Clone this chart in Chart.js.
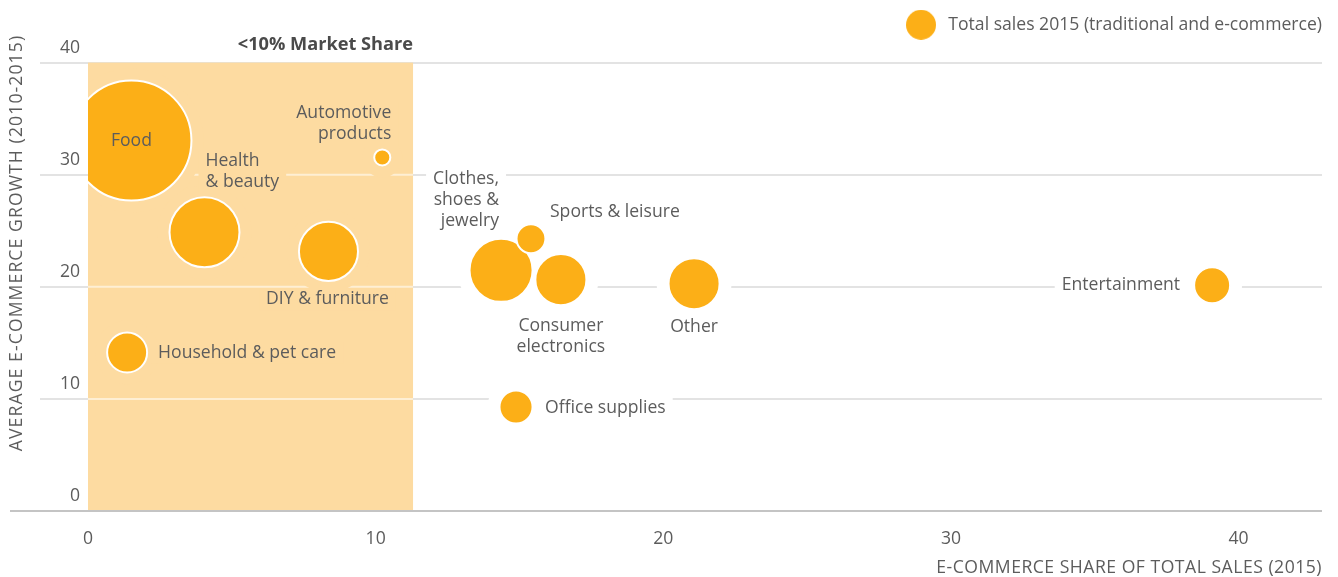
<!DOCTYPE html>
<html>
<head>
<meta charset="utf-8">
<script src="https://cdn.jsdelivr.net/npm/chart.js@4.4.1/dist/chart.umd.min.js"></script>
<style>
  html, body { margin: 0; padding: 0; background: #fff; }
  #wrap { width: 1338px; height: 577px; }
</style>
</head>
<body>
<div id="wrap"><canvas id="bubbleChart"></canvas></div>
<script>
// categories and values
const categories = ['Food', 'Health\n& beauty', 'Automotive\nproducts', 'DIY & furniture', 'Household & pet care',
  'Clothes,\nshoes &\njewelry', 'Sports & leisure', 'Consumer\nelectronics', 'Other', 'Entertainment', 'Office supplies'];
const eShare = [1.51, 4.05, 10.23, 8.36, 1.36, 14.36, 15.40, 16.44, 21.07, 39.08, 14.88];
const growth = [33.05, 24.86, 31.54, 23.16, 14.14, 21.47, 24.28, 20.64, 20.28, 20.13, 9.28];
const totalSales = [100, 34, 1.8, 24.2, 11.1, 27.6, 5.8, 18.1, 18.1, 9, 7.6];
const xTicks = [0, 10, 20, 30, 40];
const yTicks = [0, 10, 20, 30, 40];
const shareLimit = 11.3;   // right edge of the shaded block
const shadeLabel = '<10% Market Share';
const legendLabel = 'Total sales 2015 (traditional and e-commerce)';
const xTitle = 'E-COMMERCE SHARE OF TOTAL SALES (2015)';
const yTitle = 'AVERAGE E-COMMERCE GROWTH (2010-2015)';

const ORANGE = '#fcaf17';
const SHADE = '#fddba1';
const TEXT = '#5c5c5c';
const FONT = '"Open Sans", sans-serif';
const FS = 17.6;

// label offset from bubble centre: dx, dy, align
const labelPlace = [
  [0, 0, 'center'], [1, -71, 'left'], [9, -44, 'right'], [-1, 48, 'center'], [31, 0, 'left'],
  [-2, -91, 'right'], [19, -27, 'left'], [0, 46, 'center'], [0, 43, 'center'], [-32, 0, 'right'], [29, 1, 'left']
];
const LINE_H = 21;

const dot = document.createElement('canvas');
dot.width = 30; dot.height = 30;
const dctx = dot.getContext('2d');
dctx.fillStyle = ORANGE;
dctx.beginPath(); dctx.arc(15, 15, 15, 0, Math.PI * 2); dctx.fill();

function labelBox(ctx, i, pt) {
  const lines = categories[i].split('\n');
  const [dx, dy, align] = labelPlace[i];
  const ax = pt.x + dx, ay = pt.y + dy;
  const w = Math.max(...lines.map(l => ctx.measureText(l).width));
  const left = align === 'left' ? ax : align === 'right' ? ax - w : ax - w / 2;
  return {lines, ax, ay, align, left, w, top: ay - 11, bottom: ay + (lines.length - 1) * LINE_H + 11};
}

const decor = {
  id: 'decor',
  beforeDatasetsDraw(chart) {
    const {ctx, chartArea: a, scales: {x, y}} = chart;
    const x0 = x.getPixelForValue(0), x1 = x.getPixelForValue(shareLimit);
    const yTop = y.getPixelForValue(40), yBot = y.getPixelForValue(0);
    ctx.save();
    ctx.fillStyle = SHADE;
    ctx.fillRect(x0, yTop, x1 - x0, yBot - yTop);
    ctx.strokeStyle = 'rgba(255,255,255,0.55)';
    ctx.lineWidth = 2;
    [10, 20, 30].forEach(v => {
      const py = y.getPixelForValue(v);
      ctx.beginPath(); ctx.moveTo(x0, py); ctx.lineTo(x1, py); ctx.stroke();
    });
    // clear the grid around bubbles and labels
    ctx.font = FS + 'px ' + FONT;
    const meta = chart.getDatasetMeta(0);
    meta.data.forEach((pt, i) => {
      const inside = eShare[i] < shareLimit;
      ctx.save();
      if (inside) { ctx.beginPath(); ctx.rect(x0, yTop + 1, x1 - x0, yBot - yTop - 1); ctx.clip(); }
      ctx.fillStyle = inside ? SHADE : '#fff';
      ctx.beginPath(); ctx.arc(pt.x, pt.y, pt.options.radius + 12, 0, Math.PI * 2); ctx.fill();
      const b = labelBox(ctx, i, pt);
      ctx.fillStyle = (b.left + b.w / 2) < x1 ? SHADE : '#fff';
      ctx.fillRect(b.left - 7, b.top, b.w + 14, b.bottom - b.top);
      ctx.restore();
    });
    ctx.strokeStyle = '#c4c4c4';
    ctx.lineWidth = 2;
    ctx.beginPath(); ctx.moveTo(10, yBot); ctx.lineTo(a.right, yBot); ctx.stroke();
    ctx.restore();
  },
  afterDatasetsDraw(chart) {
    const {ctx, chartArea: a, scales: {x}} = chart;
    ctx.save();
    ctx.font = FS + 'px ' + FONT;
    ctx.fillStyle = TEXT;
    ctx.textBaseline = 'middle';
    chart.getDatasetMeta(0).data.forEach((pt, i) => {
      const b = labelBox(ctx, i, pt);
      ctx.textAlign = b.align;
      b.lines.forEach((l, k) => ctx.fillText(l, b.ax, b.ay + k * LINE_H));
    });
    ctx.font = 'bold 18.2px ' + FONT;
    ctx.fillStyle = '#4a4a4a';
    ctx.textAlign = 'right';
    ctx.fillText(shadeLabel, x.getPixelForValue(shareLimit), 45);
    // axis titles
    ctx.font = FS + 'px ' + FONT;
    ctx.fillStyle = TEXT;
    ctx.letterSpacing = '0.5px';
    ctx.fillText(xTitle, a.right, 568);
    ctx.letterSpacing = '1.1px';
    ctx.textAlign = 'center';
    ctx.translate(17, 243);
    ctx.rotate(-Math.PI / 2);
    ctx.fillText(yTitle, 0, 0);
    ctx.restore();
  }
};

new Chart(document.getElementById('bubbleChart'), {
  type: 'bubble',
  data: {
    datasets: [{
      label: legendLabel,
      data: categories.map((c, i) => ({x: eShare[i], y: growth[i], r: 6 * Math.sqrt(totalSales[i])})),
      backgroundColor: ORANGE,
      borderColor: '#fff',
      borderWidth: 2,
      hoverBorderWidth: 2,
      hoverRadius: 0,
      clip: {left: 0, top: false, right: false, bottom: false}
    }]
  },
  options: {
    responsive: true,
    maintainAspectRatio: false,
    animation: false,
    events: [],
    layout: {autoPadding: false, padding: {left: 0, right: 0, top: 0, bottom: 0}},
    scales: {
      x: {
        type: 'linear', min: 0, max: 42.9,
        afterBuildTicks: s => { s.ticks = xTicks.map(v => ({value: v})); },
        afterFit: s => { s.height = 66; },
        grid: {display: false, drawTicks: false},
        border: {display: false},
        ticks: {padding: 17, color: TEXT, font: {family: FONT, size: FS}}
      },
      y: {
        type: 'linear', min: 0, max: 40,
        afterBuildTicks: s => { s.ticks = yTicks.map(v => ({value: v})); },
        afterFit: s => { s.width = 88; },
        grid: {color: '#e3e3e3', lineWidth: 2, tickLength: 48, drawTicks: true},
        border: {display: false},
        ticks: {padding: -40, labelOffset: -15, color: TEXT, font: {family: FONT, size: FS}}
      },
      // empty spacer axes that hold the plot clear of the legend and the right edge
      xTop: {
        type: 'linear', position: 'top', display: true,
        afterFit: s => { s.height = 19; },
        grid: {display: false}, border: {display: false}, ticks: {display: false}
      },
      yRight: {
        type: 'linear', position: 'right', display: true,
        afterFit: s => { s.width = 16; },
        grid: {display: false}, border: {display: false}, ticks: {display: false}
      }
    },
    plugins: {
      tooltip: {enabled: false},
      legend: {
        position: 'top', align: 'end',
        onClick: null,
        labels: {
          usePointStyle: true, pointStyleWidth: 37, padding: 16,
          color: TEXT, font: {family: FONT, size: FS},
          generateLabels: () => [{text: legendLabel, pointStyle: dot, fillStyle: ORANGE, strokeStyle: ORANGE,
            lineWidth: 0, hidden: false, datasetIndex: 0, fontColor: TEXT}]
        }
      }
    }
  },
  plugins: [decor]
});
</script>
</body>
</html>
